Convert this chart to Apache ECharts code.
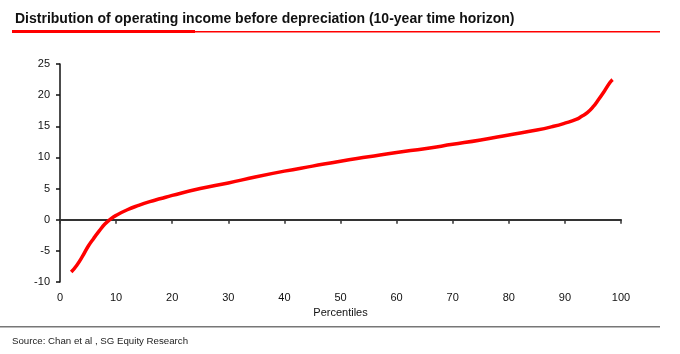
<!DOCTYPE html>
<html>
<head>
<meta charset="utf-8">
<script src="https://cdn.jsdelivr.net/npm/echarts@6/dist/echarts.min.js"></script>
<style>
  html, body { margin: 0; padding: 0; background: #fff; }
  #main { width: 680px; height: 354px; }
</style>
</head>
<body>
<div id="main"></div>
<script>
// percentile -> operating income before depreciation
var percentiles = [2, 3, 4, 5, 6, 7, 8, 9, 10, 12, 14, 16, 18, 20, 25, 30, 35, 40, 45, 50,
                   55, 60, 65, 70, 75, 80, 85, 88, 90, 92, 93, 94, 95, 96, 97, 98, 98.5];
var income = [-8.4, -7.3, -5.9, -4.3, -3.0, -1.8, -0.7, 0.1, 0.7, 1.6, 2.3, 2.9, 3.4, 3.9, 5.0, 5.9, 6.9, 7.8, 8.6, 9.4,
              10.1, 10.8, 11.4, 12.1, 12.8, 13.6, 14.4, 15.0, 15.5, 16.1, 16.6, 17.2, 18.1, 19.3, 20.6, 22.0, 22.5];
var titleText = 'Distribution of operating income before depreciation (10-year time horizon)';
var sourceText = 'Source: Chan et al , SG Equity Research';

var chart = echarts.init(document.getElementById('main'));
var font = 'Liberation Sans, Arial, sans-serif';

chart.setOption({
    animation: false,
    title: {
        text: titleText,
        left: 10, top: 7,
        textStyle: { fontFamily: font, fontSize: 14, fontWeight: 'bold', color: '#111' }
    },
    graphic: [
        { type: 'rect', shape: { x: 12, y: 30, width: 183, height: 3 }, style: { fill: '#ff0000' } },
        { type: 'rect', shape: { x: 195, y: 31, width: 465, height: 1.5 }, style: { fill: '#ff0000' } },
        { type: 'rect', shape: { x: 0, y: 326, width: 660, height: 1.5 }, style: { fill: '#777' } },
        { type: 'text', left: 12, top: 336, style: { text: sourceText, font: '9.7px ' + font, fill: '#222' } }
    ],
    grid: { left: 60, right: 59, top: 64, bottom: 72 },
    xAxis: [{
        type: 'value', min: 0, max: 100, interval: 10,
        axisLine: { onZero: true, lineStyle: { color: '#333', width: 2 } },
        axisTick: { show: true, length: 4, lineStyle: { color: '#333', width: 1.5 } },
        axisLabel: { show: false },
        splitLine: { show: false }
    }, {
        type: 'value', min: 0, max: 100, interval: 10, position: 'bottom',
        axisLine: { show: false, onZero: false },
        axisTick: { show: false },
        axisLabel: { margin: 10, fontFamily: font, fontSize: 11, color: '#111' },
        splitLine: { show: false },
        name: 'Percentiles', nameLocation: 'middle', nameGap: 25,
        nameTextStyle: { fontFamily: font, fontSize: 11, color: '#111' }
    }],
    yAxis: {
        type: 'value', min: -10, max: 25, interval: 5,
        axisLine: { show: true, onZero: false, lineStyle: { color: '#111', width: 1.5 } },
        axisTick: { show: true, length: 4, lineStyle: { color: '#111', width: 1.5 } },
        axisLabel: { margin: 10, fontFamily: font, fontSize: 11, color: '#111' },
        splitLine: { show: false }
    },
    series: [{
        type: 'line',
        xAxisIndex: 0,
        smooth: true,
        showSymbol: false,
        lineStyle: { color: '#ff0000', width: 3.5 },
        data: percentiles.map(function (p, i) { return [p, income[i]]; })
    }]
});
</script>
</body>
</html>
